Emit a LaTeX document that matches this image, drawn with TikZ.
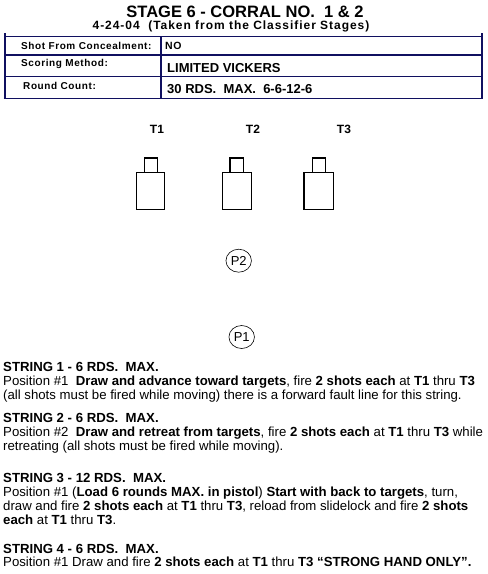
\documentclass[tikz,border=0pt]{standalone}
\usepackage{fontspec}
\usetikzlibrary{shapes.geometric}
\setmainfont{Liberation Sans}
\newfontfamily\spacedfont[LetterSpace=6]{Liberation Sans}
\newfontfamily\subfont[LetterSpace=8]{Liberation Sans}
\definecolor{navy}{RGB}{16,16,96}
\begin{document}
\begin{tikzpicture}[x=1pt,y=-1pt,
  tbl/.style={draw=navy,line width=1.5pt},
  lbl/.style={anchor=west,inner sep=0,font=\spacedfont\bfseries\fontsize{10}{12}\selectfont},
  val/.style={anchor=west,inner sep=0,font=\bfseries\fontsize{13}{15}\selectfont},
  tgt/.style={draw=black,line width=1.2pt},
  tlabel/.style={inner sep=0,font=\bfseries\fontsize{12}{14}\selectfont},
  posnode/.style={draw=black,line width=0.6pt,ellipse,minimum width=25.5pt,minimum height=23pt,inner sep=0,font=\fontsize{13}{15}\selectfont},
  txt/.style={anchor=base west,inner sep=0,font=\fontsize{13.2}{15}\selectfont}]
\useasboundingbox (0,0) rectangle (488,574);
% titles
\node[anchor=base,inner sep=0,font=\bfseries\fontsize{16.5}{19}\selectfont] (title) at (245,17) {STAGE 6 - CORRAL NO.\ \ 1 \& 2};
\node[anchor=base,inner sep=0,font=\subfont\bfseries\fontsize{12}{14}\selectfont] (sub) at (231,29.5) {4-24-04\ \ (Taken from the Classifier Stages)};
% table
\draw[tbl] (5,33) -- (5,98.5);
\draw[tbl] (482,33) -- (482,98.5);
\draw[tbl] (161,36.7) -- (161,98.5);
\draw[tbl] (5,36.7) -- (482,36.7);
\draw[tbl] (5,55) -- (482,55);
\draw[tbl] (5,76.7) -- (482,76.7);
\draw[tbl] (3.5,98.3) -- (482.7,98.3);
\node[lbl] (l1) at (21,45.7) {Shot From Concealment:};
\node[lbl] (l2) at (21,63.7) {Scoring Method:};
\node[lbl] (l3) at (23,85.7) {Round Count:};
\node[anchor=west,inner sep=0,font=\spacedfont\bfseries\fontsize{10.5}{12}\selectfont] (v1) at (165,46) {NO};
\node[val] (v2) at (167,68) {LIMITED VICKERS};
\node[val] (v3) at (167,89.5) {30 RDS.\ \ MAX.\ \ 6-6-12-6};
% targets
\node[tlabel] (t1) at (157,129) {T1};
\node[tlabel] (t2) at (253,129) {T2};
\node[tlabel] (t3) at (344,129) {T3};
\draw[tgt] (144.3,158) rectangle (157.3,172.3);
\draw[tgt] (136.3,172.3) rectangle (164.3,209.5);
\draw[tgt] (230,158) rectangle (243.3,172.3);
\draw[tgt] (222.3,172.3) rectangle (251.7,209.5);
\draw[tgt] (312.7,158) rectangle (325.7,172.3);
\draw[tgt] (304,172.3) rectangle (333.3,209.5);
% positions
\node[posnode] (p2) at (238.7,260.7) {P2};
\node[posnode] (p1) at (241.7,337) {P1};
% strings
\node[txt] (s1a) at (3,371.5) {\textbf{STRING 1 - 6 RDS.\ \ MAX.}};
\node[txt] (s1b) at (3,385.5) {Position \#1\ \ \textbf{Draw and advance toward targets}, fire \textbf{2 shots each} at \textbf{T1} thru \textbf{T3}};
\node[txt] (s1c) at (3,399.5) {(all shots must be fired while moving) there is a forward fault line for this string.};
\node[txt] (s2a) at (3,422.5) {\textbf{STRING 2 - 6 RDS.\ \ MAX.}};
\node[txt] (s2b) at (3,436.5) {Position \#2\ \ \textbf{Draw and retreat from targets}, fire \textbf{2 shots each} at \textbf{T1} thru \textbf{T3} while};
\node[txt] (s2c) at (3,450.5) {retreating (all shots must be fired while moving).};
\node[txt] (s3a) at (3,482.5) {\textbf{STRING 3 - 12 RDS.\ \ MAX.}};
\node[txt] (s3b) at (3,496.5) {Position \#1 (\textbf{Load 6 rounds MAX. in pistol}) \textbf{Start with back to targets}, turn,};
\node[txt] (s3c) at (3,510.5) {draw and fire \textbf{2 shots each} at \textbf{T1} thru \textbf{T3}, reload from slidelock and fire \textbf{2 shots}};
\node[txt] (s3d) at (3,524.5) {\textbf{each} at \textbf{T1} thru \textbf{T3}.};
\node[txt] (s4a) at (3,553.5) {\textbf{STRING 4 - 6 RDS.\ \ MAX.}};
\node[txt] (s4b) at (3,566.5) {Position \#1 Draw and fire \textbf{2 shots each} at \textbf{T1} thru \textbf{T3} \textbf{“STRONG HAND ONLY”.}};
\end{tikzpicture}
\end{document}
